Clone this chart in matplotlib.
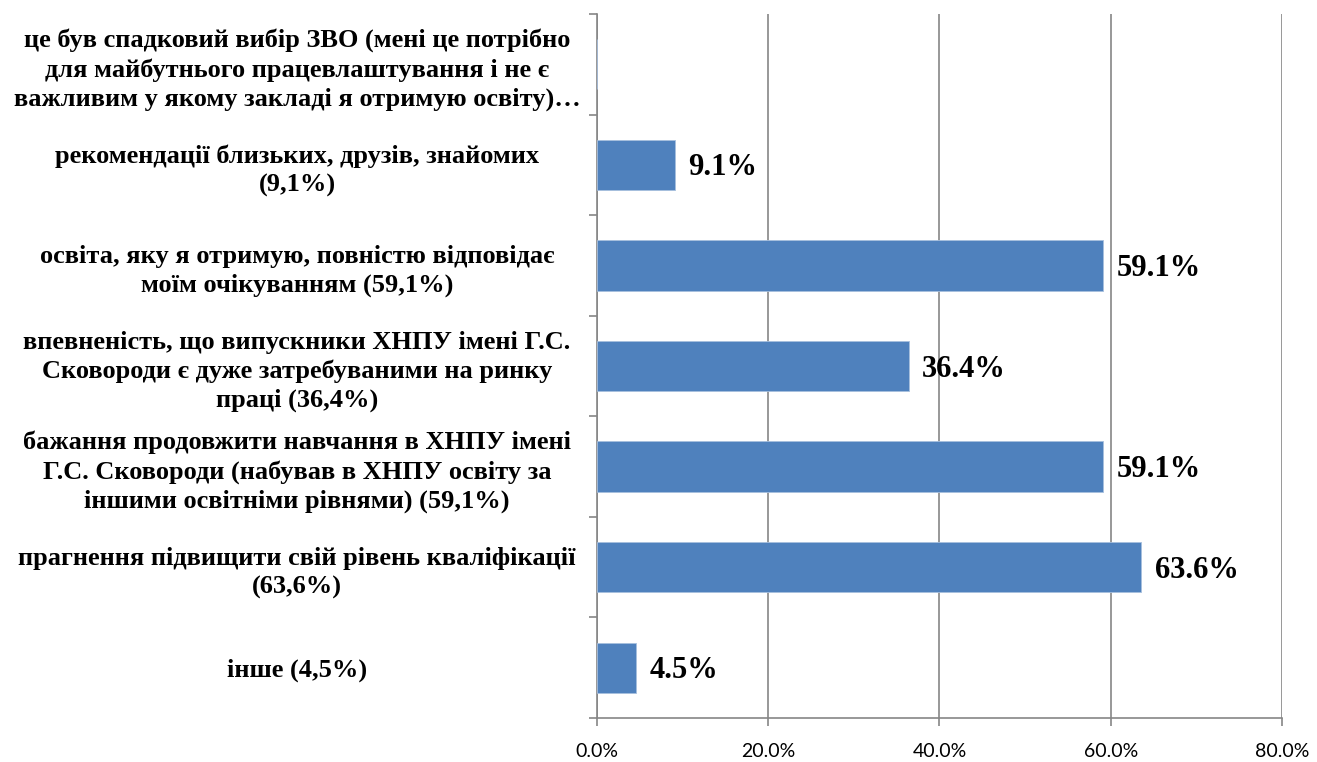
import numpy as np
import matplotlib.pyplot as plt
from matplotlib.ticker import FuncFormatter

# categories listed bottom -> top
categories = [
    "інше (4,5%)",
    "прагнення підвищити свій рівень кваліфікації\n(63,6%)",
    "бажання продовжити навчання в ХНПУ імені\nГ.С. Сковороди (набував в ХНПУ освіту за\nіншими освітніми рівнями) (59,1%)",
    "впевненість, що випускники ХНПУ імені Г.С.\nСковороди є дуже затребуваними на ринку\nпраці (36,4%)",
    "освіта, яку я отримую, повністю відповідає\nмоїм очікуванням (59,1%)",
    "рекомендації близьких, друзів, знайомих\n(9,1%)",
    "це був спадковий вибір ЗВО (мені це потрібно\nдля майбутнього працевлаштування і не є\nважливим у якому закладі я отримую освіту)…",
]
values = [4.5, 63.6, 59.1, 36.4, 59.1, 9.1, None]
xticks = [0, 20, 40, 60, 80]

grid_col = "#868686"
bar_col = "#4F81BD"

fig = plt.figure(figsize=(13.17, 7.62), dpi=100)
ax = fig.add_axes([0.4533, 0.0577, 0.52, 0.924])

y = np.arange(len(categories))
vals = [v if v is not None else 0 for v in values]
ax.barh(y, vals, height=0.5, color=bar_col, edgecolor="#A7BFDE", linewidth=0.6, zorder=3)

for yi, v in zip(y, values):
    if v is None:
        continue
    ax.text(v + 1.6, yi - 0.03, f"{v:.1f}%", va="center", ha="left",
            family="Liberation Serif", fontweight="bold", fontsize=22, zorder=4)

ax.set_xlim(0, 80)
ax.set_ylim(-0.5, len(categories) - 0.5)
ax.set_xticks(xticks)
ax.xaxis.set_major_formatter(FuncFormatter(lambda v, p: f"{v:.1f}%"))
ax.xaxis.grid(True, color=grid_col, linewidth=1.2, zorder=0)
ax.set_axisbelow(True)

# category boundary ticks on the left, labels centred on bars
ax.set_yticks(np.arange(-0.5, len(categories), 1.0))
ax.set_yticklabels([])
ax.set_yticks(y, minor=True)
ax.set_yticklabels(categories, minor=True, family="Liberation Serif",
                   fontweight="bold", fontsize=19, ha="center", linespacing=1.32)
ax.tick_params(axis="y", which="minor", length=0, pad=216)
ax.tick_params(axis="y", which="major", length=6, color=grid_col, width=1.2, direction="out")
ax.tick_params(axis="x", length=6, color=grid_col, width=1.2, pad=12, labelsize=14)
for lab in ax.get_yticklabels(minor=True):
    lab.set_y(lab.get_position()[1])
for lab in ax.get_xticklabels():
    lab.set_family("Lato")

for s in ["top", "right"]:
    ax.spines[s].set_visible(False)
for s in ["left", "bottom"]:
    ax.spines[s].set_color(grid_col)
    ax.spines[s].set_linewidth(1.2)

fig.savefig("out.png", dpi=100)
